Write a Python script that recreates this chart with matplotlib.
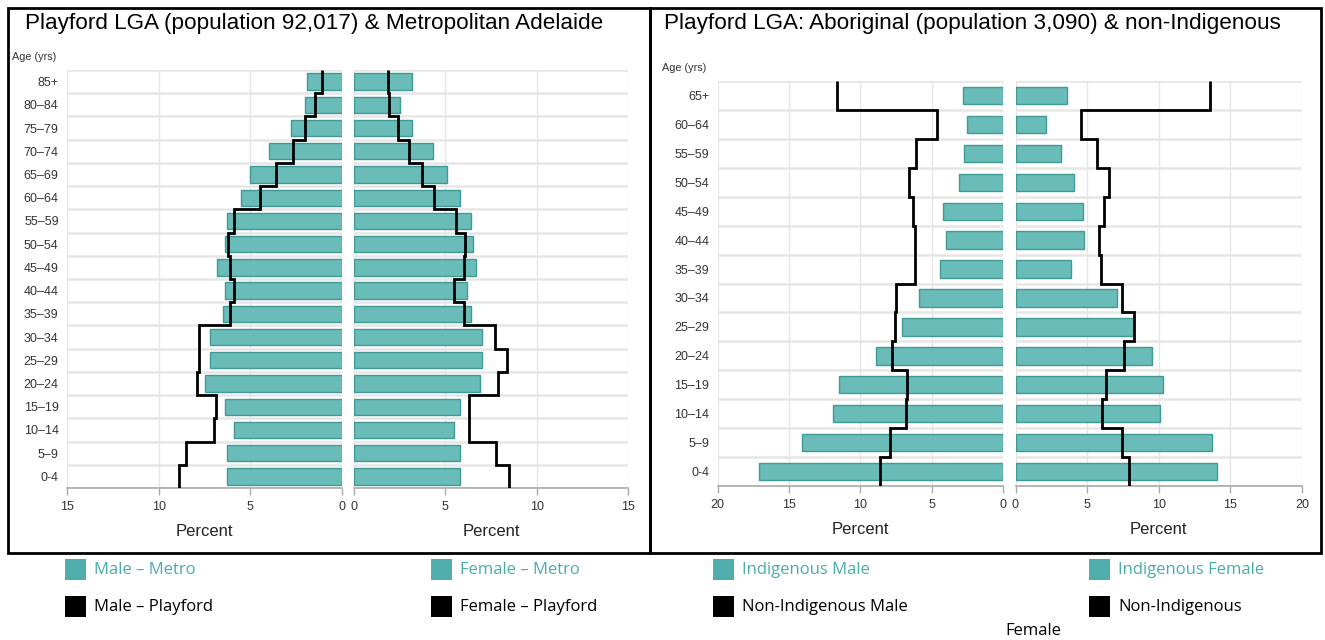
import numpy as np
import matplotlib
matplotlib.use("Agg")
import matplotlib.pyplot as plt
from matplotlib.patches import Rectangle

# ---------------- data ----------------
ages_left = ["0-4", "5–9", "10–14", "15–19", "20–24", "25–29", "30–34", "35–39",
             "40–44", "45–49", "50–54", "55–59", "60–64", "65–69", "70–74",
             "75–79", "80–84", "85+"]
male_metro = [6.3, 6.3, 5.9, 6.4, 7.5, 7.2, 7.2, 6.5, 6.4, 6.8, 6.4, 6.3, 5.5, 5.0, 4.0, 2.8, 2.0, 1.9]
female_metro = [5.8, 5.8, 5.5, 5.8, 6.9, 7.0, 7.0, 6.4, 6.2, 6.7, 6.5, 6.4, 5.8, 5.1, 4.3, 3.2, 2.5, 3.2]
male_playford = [8.9, 8.5, 7.0, 6.9, 7.9, 7.8, 7.8, 6.1, 5.9, 6.1, 6.2, 5.9, 4.5, 3.6, 2.7, 2.0, 1.5, 1.1]
female_playford = [8.5, 7.8, 6.3, 6.3, 7.9, 8.4, 7.7, 6.0, 5.5, 6.0, 6.1, 5.6, 4.4, 3.7, 3.0, 2.4, 1.9, 1.85]

ages_right = ["0-4", "5–9", "10–14", "15–19", "20–24", "25–29", "30–34", "35–39",
              "40–44", "45–49", "50–54", "55–59", "60–64", "65+"]
indig_male = [17.1, 14.1, 11.9, 11.5, 8.9, 7.1, 5.9, 4.4, 4.0, 4.2, 3.1, 2.75, 2.5, 2.8]
indig_female = [14.1, 13.7, 10.1, 10.3, 9.5, 8.3, 7.1, 3.9, 4.8, 4.7, 4.1, 3.2, 2.1, 3.6]
nonind_male = [8.6, 7.9, 6.8, 6.7, 7.75, 7.6, 7.5, 6.2, 6.2, 6.3, 6.6, 6.1, 4.6, 11.6]
nonind_female = [7.9, 7.4, 6.05, 6.3, 7.6, 8.3, 7.4, 6.0, 5.8, 6.2, 6.5, 5.7, 4.6, 13.6]

titles = ["Playford LGA (population 92,017) & Metropolitan Adelaide",
          "Playford LGA: Aboriginal (population 3,090) & non-Indigenous"]
legend_bar_labels = ["Male – Metro", "Female – Metro", "Indigenous Male", "Indigenous Female"]
legend_line_labels = ["Male – Playford", "Female – Playford", "Non-Indigenous Male", "Non-Indigenous"]

# ---------------- style ----------------
W, H = 1325, 640
BAR_FC = "#69bcb8"
BAR_EC = "#3f9994"
GRID = "#e6e6e6"
TICKC = "#333333"
ARIAL = ["Liberation Sans", "DejaVu Sans"]
LEGEND_TEAL = "#4aabab"
LEGF = ["Open Sans", "DejaVu Sans"]

fig = plt.figure(figsize=(W / 100, H / 100), dpi=100)
fig.patch.set_facecolor("white")


def fx(px):
    return px / W


def fy(py):
    return 1 - py / H


def make_ax(x0, x1, ytop, ybot):
    return fig.add_axes([fx(x0), fy(ybot), fx(x1) - fx(x0), (ybot - ytop) / H])


def style_ax(ax, n, xmax, step, male, labels):
    ax.set_ylim(-0.5, n - 0.5)
    if male:
        ax.set_xlim(xmax, 0)
    else:
        ax.set_xlim(0, xmax)
    tv = np.arange(0, xmax + 0.1, step)
    ax.set_xticks(tv)
    ax.set_xticklabels([str(int(v)) for v in tv], family=ARIAL, fontsize=9, color=TICKC)
    ax.set_yticks(np.arange(n), minor=False)
    if male:
        ax.set_yticklabels(labels, family=ARIAL, fontsize=9, color=TICKC)
    else:
        ax.set_yticklabels([])
    ax.set_yticks(np.arange(n + 1) - 0.5, minor=True)
    ax.tick_params(axis="y", which="both", length=0, pad=6)
    ax.tick_params(axis="x", length=5, color="#aaaaaa", width=1, pad=4)
    ax.grid(True, which="minor", axis="y", color=GRID, lw=1.8, zorder=0)
    ax.grid(True, which="major", axis="x", color=GRID, lw=1.0, zorder=0)
    for s in ["top", "left", "right"]:
        ax.spines[s].set_visible(False)
    ax.spines["bottom"].set_color("#aaaaaa")
    ax.spines["bottom"].set_linewidth(1.2)
    ax.set_axisbelow(True)
    ax.set_xlabel("Percent", family=ARIAL, fontsize=12, color="#222222", labelpad=8)


def draw(ax, bars, line, bar_h):
    n = len(bars)
    y = np.arange(n)
    ax.barh(y, bars, height=bar_h, color=BAR_FC, edgecolor=BAR_EC, linewidth=1.0, zorder=2)
    ax.stairs(line, np.arange(n + 1) - 0.5, orientation="horizontal", baseline=None,
              color="black", lw=2.0, zorder=3)


# ---- left panel ----
axLM = make_ax(67, 342, 70, 488)
axLF = make_ax(354, 628, 70, 488)
nL = len(ages_left)
style_ax(axLM, nL, 15, 5, True, ages_left)
style_ax(axLF, nL, 15, 5, False, ages_left)
draw(axLM, male_metro, male_playford, 0.7)
draw(axLF, female_metro, female_playford, 0.7)

# ---- right panel ----
axRM = make_ax(717.6, 1003, 81, 486)
axRF = make_ax(1015.5, 1302, 81, 486)
nR = len(ages_right)
style_ax(axRM, nR, 20, 5, True, ages_right)
style_ax(axRF, nR, 20, 5, False, ages_right)
draw(axRM, indig_male, nonind_male, 0.6)
draw(axRF, indig_female, nonind_female, 0.6)

# ---- boxes ----
for (x0, x1) in [(8, 650), (650, 1321)]:
    fig.add_artist(Rectangle((fx(x0), fy(553)), fx(x1) - fx(x0), (553 - 8) / H,
                             transform=fig.transFigure, fill=False, edgecolor="black",
                             linewidth=2.0))

# ---- titles ----
fig.text(fx(25), fy(23), titles[0], family=ARIAL, fontsize=16.2,
         va="center", ha="left", color="black")
fig.text(fx(664), fy(23), titles[1], family=ARIAL, fontsize=16.2,
         va="center", ha="left", color="black")
fig.text(fx(12), fy(57), "Age (yrs)", family=ARIAL, fontsize=7.8, color=TICKC, va="center")
fig.text(fx(662), fy(68), "Age (yrs)", family=ARIAL, fontsize=7.8, color=TICKC, va="center")

# ---- legend ----
col_x = [65, 431, 713, 1089]
for i, cx in enumerate(col_x):
    fig.add_artist(Rectangle((fx(cx), fy(580)), fx(21), 21 / H, transform=fig.transFigure,
                             facecolor="#4fadac", edgecolor="none"))
    fig.text(fx(cx + 29), fy(570), legend_bar_labels[i], family=LEGF,
             fontsize=12, color=LEGEND_TEAL, va="center", ha="left")
    fig.add_artist(Rectangle((fx(cx), fy(617)), fx(21), 21 / H, transform=fig.transFigure,
                             facecolor="black", edgecolor="none"))
    fig.text(fx(cx + 29), fy(607), legend_line_labels[i], family=LEGF,
             fontsize=12, color="black", va="center", ha="left")
fig.text(fx(1005), fy(631), "Female", family=LEGF,
         fontsize=12, color="black", va="center", ha="left")

fig.savefig("out.png", dpi=100)
